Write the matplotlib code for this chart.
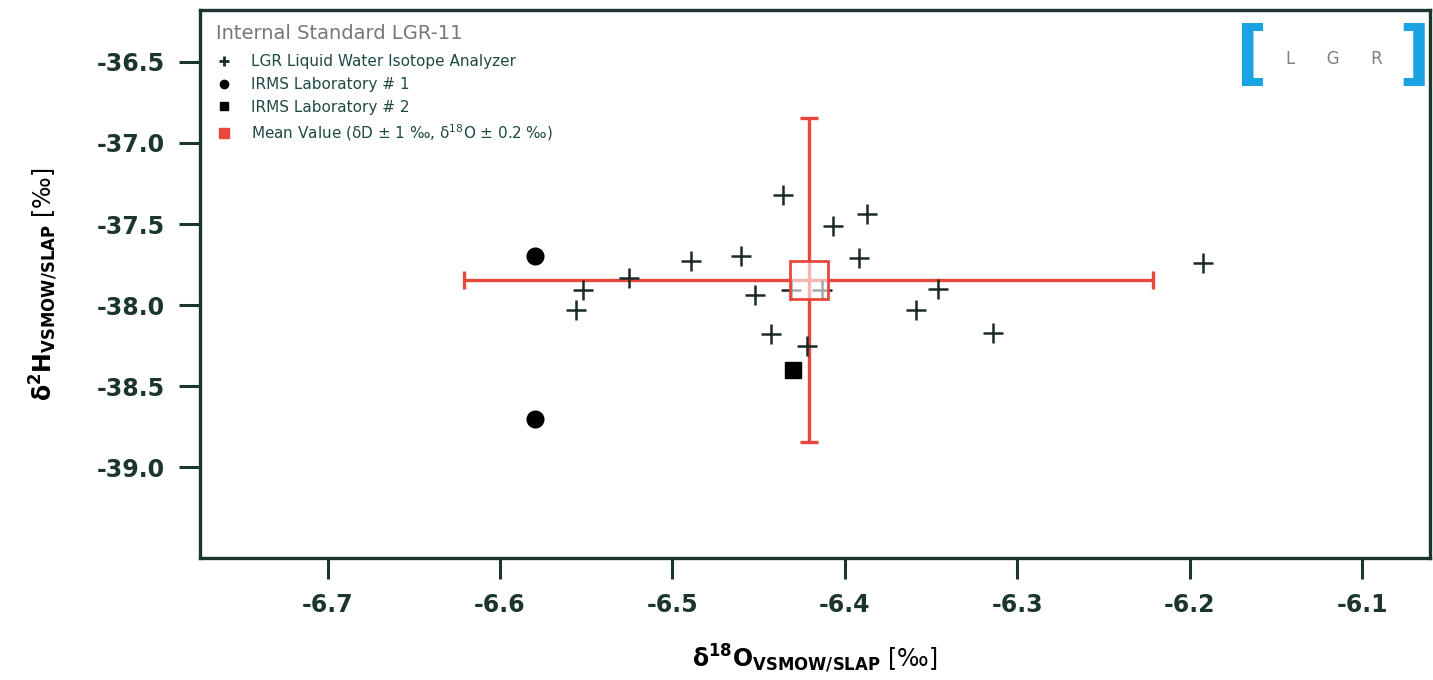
import matplotlib
matplotlib.use("Agg")
import matplotlib.pyplot as plt
from matplotlib.lines import Line2D

plt.rcParams['axes.unicode_minus'] = False
plt.rcParams['mathtext.fontset'] = 'dejavusans'

# LGR analyzer measurements (d18O, d2H)
lgr_o18 = [-6.556, -6.552, -6.525, -6.489, -6.460, -6.452, -6.443, -6.436, -6.431,
           -6.422, -6.413, -6.407, -6.392, -6.387, -6.359, -6.346, -6.314, -6.192]
lgr_h2 = [-38.03, -37.91, -37.83, -37.73, -37.70, -37.94, -38.18, -37.32, -37.91,
          -38.25, -37.91, -37.51, -37.71, -37.44, -38.03, -37.90, -38.17, -37.74]

# IRMS laboratories
irms1_o18 = [-6.58, -6.58]
irms1_h2 = [-37.70, -38.70]
irms2_o18 = [-6.430]
irms2_h2 = [-38.40]

# mean value and uncertainty
mean_o18 = -6.421
mean_h2 = -37.845
err_o18 = 0.2
err_h2 = 1.0

x_ticks = [-6.7, -6.6, -6.5, -6.4, -6.3, -6.2, -6.1]
y_ticks = [-36.5, -37.0, -37.5, -38.0, -38.5, -39.0]

dark = '#1b3530'
red = '#e8473d'

fig = plt.figure(figsize=(14.33, 6.8), dpi=100)
ax = fig.add_axes([0.1396, 0.1794, 0.8584, 0.8059])

ax.errorbar([mean_o18], [mean_h2], xerr=[err_o18], yerr=[err_h2], fmt='none',
            ecolor=red, elinewidth=2.4, capsize=6.5, capthick=2.4, zorder=2)
ax.plot(lgr_o18, lgr_h2, linestyle='none', marker='+', markersize=14,
        markeredgewidth=1.8, color='#1a2a28', zorder=3)
ax.plot(irms1_o18, irms1_h2, linestyle='none', marker='o', markersize=12,
        color='black', zorder=3)
ax.plot(irms2_o18, irms2_h2, linestyle='none', marker='s', markersize=12,
        color='black', zorder=3)
ax.plot([mean_o18], [mean_h2], linestyle='none', marker='s', markersize=28,
        markerfacecolor=(1, 1, 1, 0.6), markeredgecolor=red, markeredgewidth=2,
        zorder=4)

ax.set_xlim(-6.774, -6.0605)
ax.set_ylim(-39.56, -36.18)
ax.set_xticks(x_ticks)
ax.set_yticks(y_ticks)
ax.set_xticklabels(['%.1f' % v for v in x_ticks])
ax.set_yticklabels(['%.1f' % v for v in y_ticks])

for s in ax.spines.values():
    s.set_linewidth(2.4)
    s.set_color(dark)
ax.tick_params(direction='out', length=15, width=2.2, color=dark,
               labelsize=17, labelcolor=dark, pad=10)
for lab in ax.get_xticklabels() + ax.get_yticklabels():
    lab.set_fontweight('bold')
    lab.set_family('DejaVu Sans')

ax.set_xlabel(r'$\mathbf{δ^{18}O_{VSMOW/SLAP}}$ [‰]', fontsize=17, color='black',
              labelpad=19)
ax.set_ylabel(r'$\mathbf{δ^{2}H_{VSMOW/SLAP}}$ [‰]', fontsize=17, color='black',
              labelpad=27)

# legend
handles = [
    Line2D([], [], linestyle='none', marker='+', markersize=7, markeredgewidth=2, color='#1a2a28'),
    Line2D([], [], linestyle='none', marker='o', markersize=6, color='black'),
    Line2D([], [], linestyle='none', marker='s', markersize=6, color='black'),
    Line2D([], [], linestyle='none', marker='s', markersize=7, color=red),
]
labels = ['LGR Liquid Water Isotope Analyzer',
          'IRMS Laboratory # 1',
          'IRMS Laboratory # 2',
          r'Mean Value (δD ± 1 ‰, δ$^{18}$O ± 0.2 ‰)']
leg = ax.legend(handles, labels, loc='upper left', frameon=False,
                title='Internal Standard LGR-11', fontsize=11,
                title_fontsize=14, labelcolor='#1f4a44', handlelength=1.0,
                handletextpad=1.3, labelspacing=0.5, borderaxespad=0.0,
                bbox_to_anchor=(0.008, 0.985))
leg._legend_box.align = 'left'
leg._legend_box.sep = 8
leg.get_title().set_color('#777777')

# LGR logo
ax.text(0.855, 0.915, '[', transform=ax.transAxes, fontsize=50, fontweight='bold',
        color='#1aa3e2', ha='center', va='center')
ax.text(0.987, 0.915, ']', transform=ax.transAxes, fontsize=50, fontweight='bold',
        color='#1aa3e2', ha='center', va='center')
ax.text(0.922, 0.91, 'L      G      R', transform=ax.transAxes, fontsize=12,
        color='#808080', ha='center', va='center')

fig.savefig('out.png', dpi=100)
